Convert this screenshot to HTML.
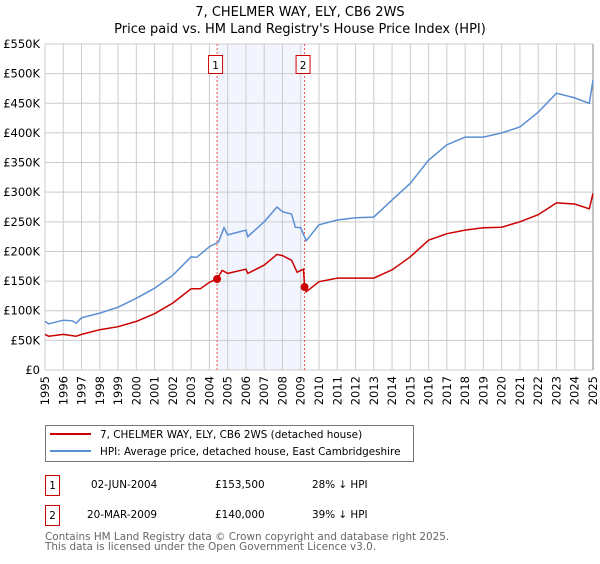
<!DOCTYPE html>
<html><head><meta charset="utf-8"><style>
body{margin:0;background:#fff;font-family:"DejaVu Sans","Liberation Sans",sans-serif;}
svg text{font-family:"DejaVu Sans","Liberation Sans",sans-serif;}
</style></head><body>
<svg id="chart" width="600" height="560" xmlns="http://www.w3.org/2000/svg">
<text x="300" y="16" text-anchor="middle" font-size="13">7, CHELMER WAY, ELY, CB6 2WS</text>
<text x="300" y="33" text-anchor="middle" font-size="13">Price paid vs. HM Land Registry's House Price Index (HPI)</text>
<g id="grid"></g>
<g id="marks"></g>
<g id="axes"></g>
<rect x="45.5" y="425.5" width="368" height="36" fill="#fff" stroke="#777"/>
<line x1="50" y1="434" x2="91" y2="434" stroke="#cc0000" stroke-width="2"/>
<text x="100" y="438" font-size="10.4">7, CHELMER WAY, ELY, CB6 2WS (detached house)</text>
<line x1="50" y1="451" x2="91" y2="451" stroke="#5b8fd4" stroke-width="2"/>
<text x="100" y="455" font-size="10.4">HPI: Average price, detached house, East Cambridgeshire</text>
<g font-size="10.4">
<rect x="45.5" y="475.5" width="14" height="20" fill="#fff" stroke="#cc0000"/>
<text x="52.5" y="489" text-anchor="middle">1</text>
<text x="91" y="488">02-JUN-2004</text>
<text x="215" y="488">£153,500</text>
<text x="312" y="488">28% ↓ HPI</text>
</g>
<g font-size="10.4">
<rect x="45.5" y="505.5" width="14" height="20" fill="#fff" stroke="#cc0000"/>
<text x="52.5" y="519" text-anchor="middle">2</text>
<text x="87" y="518">20-MAR-2009</text>
<text x="215" y="518">£140,000</text>
<text x="312" y="518">39% ↓ HPI</text>
</g>
<text x="45" y="540" font-size="10.4" fill="#666">Contains HM Land Registry data © Crown copyright and database right 2025.</text>
<text x="45" y="550" font-size="10.4" fill="#666">This data is licensed under the Open Government Licence v3.0.</text>
</svg>
<script>
const hpiYears=[1995,1995.2,1996,1996.5,1996.7,1997,1998,1999,2000,2001,2002,2003,2003.3,2004,2004.5,2004.8,2005,2006,2006.1,2007,2007.7,2008,2008.5,2008.7,2009,2009.3,2010,2011,2012,2013,2014,2015,2016,2017,2018,2019,2020,2021,2022,2023,2024,2024.8,2025];
const hpiValues=[82,78,84,83,79,88,96,106,121,138,160,191,190,208,216,240,228,236,225,250,275,267,263,241,240,218,245,253,257,258,287,315,354,380,393,393,400,410,435,467,459,450,489];
const redYears=[1995,1995.2,1996,1996.7,1997,1998,1999,2000,2001,2002,2003,2003.5,2004,2004.42,2004.7,2005,2006,2006.1,2007,2007.7,2008,2008.5,2008.8,2009.15,2009.21,2009.3,2010,2011,2012,2013,2014,2015,2016,2017,2018,2019,2020,2021,2022,2023,2024,2024.8,2025];
const redValues=[60,57,60,57,60,68,73,82,95,113,137,137,148,153.5,168,163,170,163,177,195,193,185,165,170,140,132,149,155,155,155,169,191,219,230,236,240,241,250,262,282,280,272,298];
const sales=[{n:'1',year:2004.42,value:153.5},{n:'2',year:2009.21,value:140}];
const yTicks=[0,50,100,150,200,250,300,350,400,450,500,550];
const xTicks=[1995,1996,1997,1998,1999,2000,2001,2002,2003,2004,2005,2006,2007,2008,2009,2010,2011,2012,2013,2014,2015,2016,2017,2018,2019,2020,2021,2022,2023,2024,2025];
const X0=45,X1=593,Y0=370,Y1=44;
const xs=y=>X0+(y-1995)/30*(X1-X0);
const ys=v=>Y0-v/550*(Y0-Y1);
const NS='http://www.w3.org/2000/svg';
function mk(tag,attrs,parent){const e=document.createElementNS(NS,tag);for(const k in attrs)e.setAttribute(k,attrs[k]);parent.appendChild(e);return e;}
const grid=document.getElementById('grid'),marks=document.getElementById('marks'),axes=document.getElementById('axes');
const sh=mk('rect',{x:xs(sales[0].year),y:Y1,width:xs(sales[1].year)-xs(sales[0].year),height:Y0-Y1,fill:'#f2f5fd'},grid);


yTicks.forEach(v=>{
 const l=mk('line',{x1:X0,x2:X1,y1:ys(v),y2:ys(v),stroke:'#ccc'},grid);
 
 
 const t=mk('text',{x:40,y:ys(v)+4,'text-anchor':'end','font-size':'11.5'},axes);
 t.textContent=v===0?'£0':'£'+v+'K';
 
 
});
xTicks.forEach(y=>{
 const l=mk('line',{x1:xs(y),x2:xs(y),y1:Y1,y2:Y0,stroke:'#ccc'},grid);
 
 
 const t=mk('text',{x:0,y:0,'text-anchor':'end','font-size':'11.5',transform:'translate('+(xs(y)+4)+','+(Y0+6)+') rotate(-90)'},axes);
 t.textContent=y;
 
 
});
mk('line',{x1:X1,x2:X1,y1:Y1,y2:Y0,stroke:'#888'},grid);
sales.forEach(s=>{
 const l=mk('line',{x1:xs(s.year),x2:xs(s.year),y1:Y1,y2:Y0,stroke:'#e55','stroke-dasharray':'2,2','stroke-width':1},marks);
 
 
 const r=mk('rect',{x:xs(s.year)-8.5,y:55.5,width:14,height:18,fill:'#fff',stroke:'#cc0000'},marks);
 
 
 const t=mk('text',{x:xs(s.year)-1.5,y:69,'text-anchor':'middle','font-size':'10.5'},marks);
 t.textContent=s.n;
 
 
});
function line(xa,va,col,name){
 const d=xa.map((y,i)=>(i?'L':'M')+xs(y).toFixed(1)+','+ys(va[i]).toFixed(1)).join('');
 const p=mk('path',{d:d,fill:'none',stroke:col,'stroke-width':1.5},marks);
 
 
}
line(hpiYears,hpiValues,'#5b8fd4','hpi-line');
line(redYears,redValues,'#cc0000','property-price-line');
sales.forEach(s=>{
 const c=mk('circle',{cx:xs(s.year),cy:ys(s.value),r:4,fill:'#cc0000'},marks);
 
 
});
</script>
</body></html>
